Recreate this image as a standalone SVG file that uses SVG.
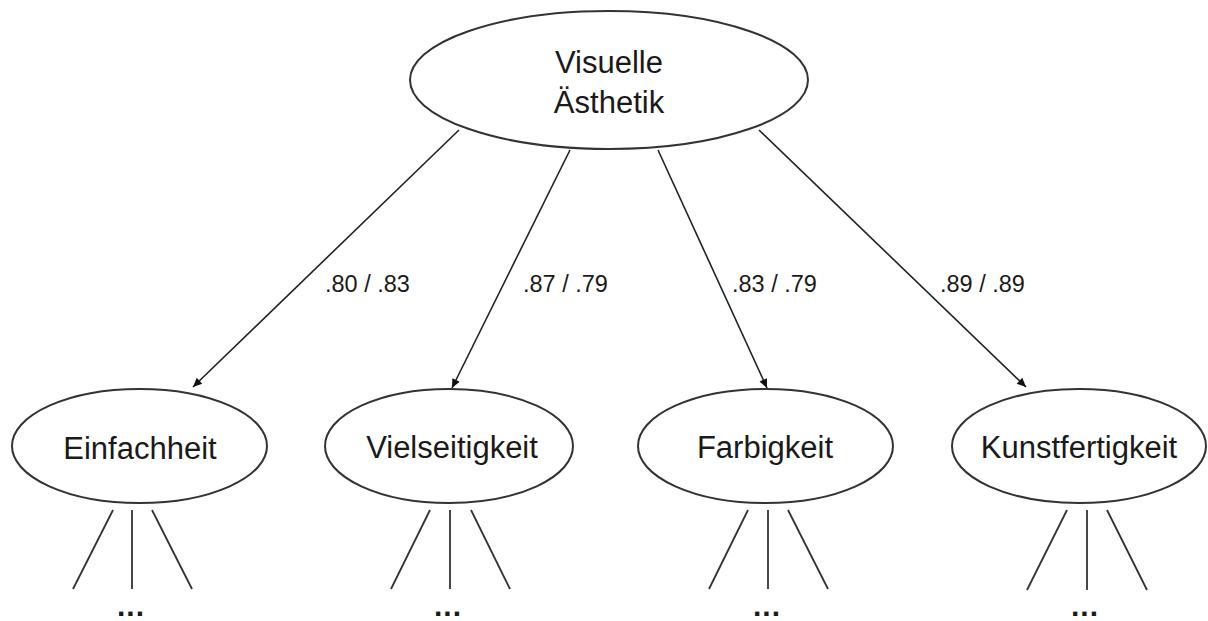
<svg xmlns="http://www.w3.org/2000/svg" width="1208" height="621" viewBox="0 0 1208 621">
<style>
.node ellipse{fill:#fff;stroke:#333;stroke-width:2}
.lbl{font-family:"Liberation Sans",Arial,sans-serif;font-size:31px;fill:#1a1a1a;text-anchor:middle}
.w{font-family:"Liberation Sans",Arial,sans-serif;font-size:23.5px;fill:#1a1a1a}
.arr{stroke:#222;stroke-width:1.6;fill:none;marker-end:url(#ah)}
.sub{stroke:#333;stroke-width:1.8;fill:none}
.dots{font-family:"Liberation Sans",Arial,sans-serif;font-size:30px;font-weight:bold;letter-spacing:1px;fill:#1a1a1a;text-anchor:middle}
</style>
<defs>
<marker id="ah" viewBox="0 0 10 10" refX="10" refY="5" markerWidth="10" markerHeight="9" markerUnits="userSpaceOnUse" orient="auto">
<path d="M0,0.5 L10,5 L0,9.5 z" fill="#111"/>
</marker>
</defs>
<rect width="1208" height="621" fill="#fff"/>
<g id="connectors">
<line class="arr" x1="459" y1="130" x2="193" y2="387"/>
<line class="arr" x1="570" y1="150" x2="452" y2="388"/>
<line class="arr" x1="658" y1="150" x2="767" y2="388"/>
<line class="arr" x1="759" y1="130" x2="1026" y2="387"/>
<text class="w" x="325" y="292">.80 / .83</text>
<text class="w" x="523" y="292">.87 / .79</text>
<text class="w" x="732" y="292">.83 / .79</text>
<text class="w" x="940" y="292">.89 / .89</text>
</g>
<g id="root" class="node">
<ellipse cx="609" cy="80" rx="199" ry="69"/>
<text class="lbl" x="609" y="73">Visuelle</text>
<text class="lbl" x="609" y="113">Ästhetik</text>
</g>
<g id="einfachheit" class="node">
<ellipse cx="139.5" cy="446" rx="127.5" ry="57"/>
<text class="lbl" x="140" y="459">Einfachheit</text>
<line class="sub" x1="113" y1="510" x2="73" y2="589"/>
<line class="sub" x1="132" y1="510" x2="132" y2="589"/>
<line class="sub" x1="152" y1="510" x2="192" y2="589"/>
<text class="dots" x="131" y="616">...</text>
</g>
<g id="vielseitigkeit" class="node">
<ellipse cx="449" cy="446" rx="124" ry="57"/>
<text class="lbl" x="452" y="458">Vielseitigkeit</text>
<line class="sub" x1="430" y1="510" x2="391" y2="589"/>
<line class="sub" x1="450" y1="510" x2="450" y2="589"/>
<line class="sub" x1="471" y1="510" x2="510" y2="589"/>
<text class="dots" x="448" y="616">...</text>
</g>
<g id="farbigkeit" class="node">
<ellipse cx="765.5" cy="446" rx="127.5" ry="57"/>
<text class="lbl" x="765" y="458">Farbigkeit</text>
<line class="sub" x1="748" y1="510" x2="709" y2="589"/>
<line class="sub" x1="768" y1="510" x2="768" y2="589"/>
<line class="sub" x1="788" y1="510" x2="828" y2="589"/>
<text class="dots" x="767" y="616">...</text>
</g>
<g id="kunstfertigkeit" class="node">
<ellipse cx="1079" cy="446" rx="127" ry="57"/>
<text class="lbl" x="1079" y="458">Kunstfertigkeit</text>
<line class="sub" x1="1067" y1="510" x2="1027" y2="590"/>
<line class="sub" x1="1087" y1="510" x2="1087" y2="590"/>
<line class="sub" x1="1107" y1="510" x2="1147" y2="590"/>
<text class="dots" x="1085" y="616">...</text>
</g>
</svg>
